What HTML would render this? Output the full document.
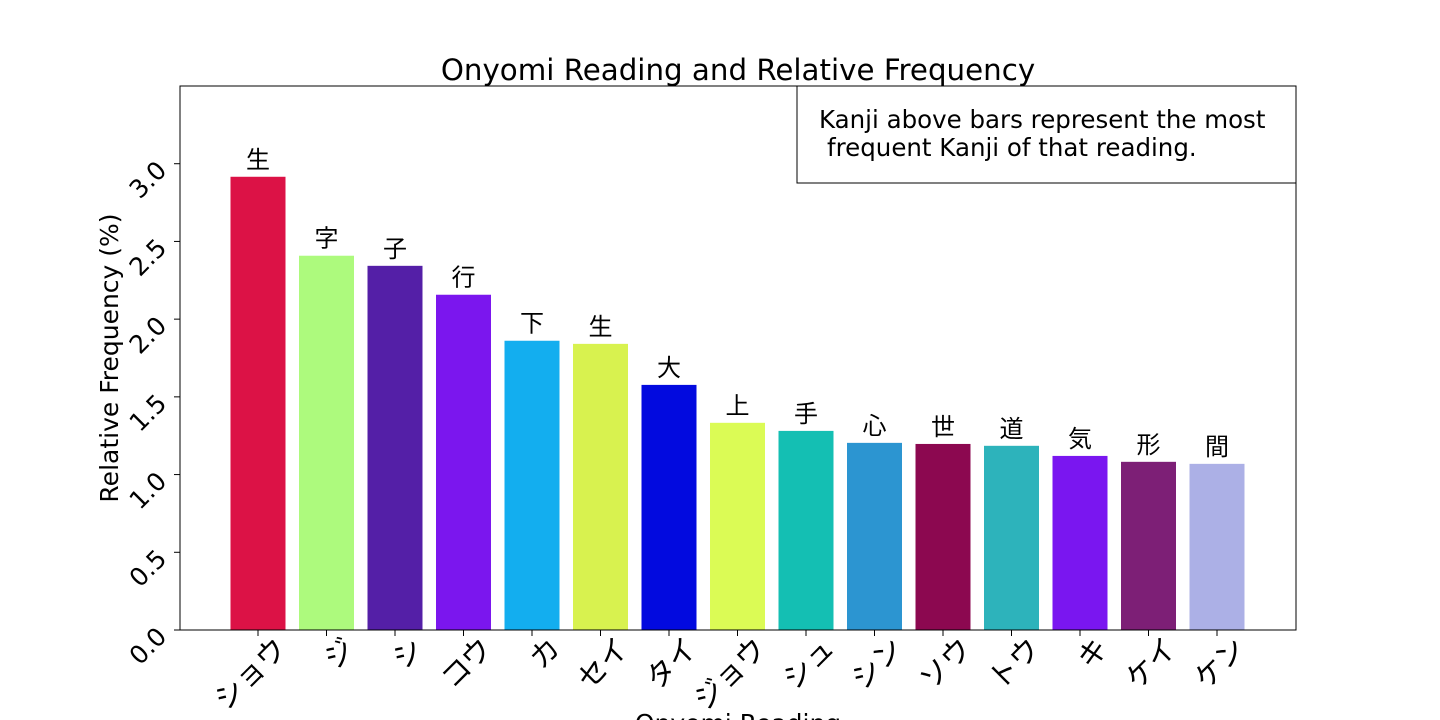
<!DOCTYPE html>
<html><head><meta charset="utf-8"><style>
body{margin:0;background:#fff;}
svg{display:block;font-family:"DejaVu Sans","Liberation Sans","Noto Sans CJK JP",sans-serif;}
</style></head><body>
<svg id="chart" width="1440" height="720" viewBox="0 0 1440 720" xmlns="http://www.w3.org/2000/svg">
<text x="738" y="80" font-size="29.3" text-anchor="middle">Onyomi Reading and Relative Frequency</text>
<g id="bars"></g>
<g id="yticks"></g>
<g id="xticks"></g>
<rect x="180" y="86" width="1116" height="544" fill="none" stroke="#000" stroke-width="1"/>
<g>
<rect x="797" y="86" width="499" height="97" fill="#fff" stroke="#000" stroke-width="1"/>
<text x="819" y="128" font-size="24.5">Kanji above bars represent the most</text>
<text x="827" y="156" font-size="24.5">frequent Kanji of that reading.</text>
</g>
<text x="0" y="0" font-size="25" text-anchor="middle" transform="translate(118,358) rotate(-90)">Relative Frequency (%)</text>
<text x="738" y="732" font-size="25" text-anchor="middle">Onyomi Reading</text>
</svg>
<script>
const categories=["ショウ","ジ","シ","コウ","カ","セイ","タイ","ジョウ","シュ","シン","ソウ","トウ","キ","ケイ","ケン"];
const kanji=["生","字","子","行","下","生","大","上","手","心","世","道","気","形","間"];
const values=[2.916,2.408,2.343,2.157,1.861,1.841,1.577,1.333,1.281,1.204,1.197,1.185,1.120,1.082,1.069];
const colors=["#dc1246","#adfa7d","#541fa7","#7b16ee","#13aeef","#d8f24f","#020adf","#dbfb55","#14bfb3","#2c95d1","#8c0850","#2db3bb","#7a16f0","#7d1f76","#acb0e6"];
const yTicks=[0,0.5,1.0,1.5,2.0,2.5,3.0];
const yTickLabels=["0.0","0.5","1.0","1.5","2.0","2.5","3.0"];
const NS="http://www.w3.org/2000/svg";
const yScale=v=>630-v*(544/3.5);
const xScale=i=>258+i*68.5;
const bw=55;
function mk(tag,attrs,parent,txt){const e=document.createElementNS(NS,tag);for(const k in attrs)e.setAttribute(k,attrs[k]);if(txt!=null)e.textContent=txt;parent.appendChild(e);return e;}
const gb=document.getElementById('bars'),gy=document.getElementById('yticks'),gx=document.getElementById('xticks');
values.forEach((v,i)=>{
 const r=mk('rect',{x:xScale(i)-bw/2,y:yScale(v),width:bw,height:630-yScale(v),fill:colors[i]},gb);
 
 
 const t=mk('text',{x:xScale(i),y:yScale(v)-9,'font-size':24,'text-anchor':'middle'},gb,kanji[i]);
 
 
 const tk=mk('line',{x1:xScale(i),x2:xScale(i),y1:630,y2:636,stroke:'#000'},gx);
 
 
 const xl=mk('text',{x:0,y:0,'font-size':29,'text-anchor':'end',transform:`translate(${xScale(i)+30},${650}) rotate(-45)`},gx,categories[i]);
 
 
});
yTicks.forEach((v,i)=>{
 const tk=mk('line',{x1:174,x2:180,y1:yScale(v),y2:yScale(v),stroke:'#000'},gy);
 
 
 const yl=mk('text',{x:0,y:0,'font-size':25,'text-anchor':'end',transform:`translate(${168},${yScale(v)+8}) rotate(-45)`},gy,yTickLabels[i]);
 
 
});
</script>
</body></html>
